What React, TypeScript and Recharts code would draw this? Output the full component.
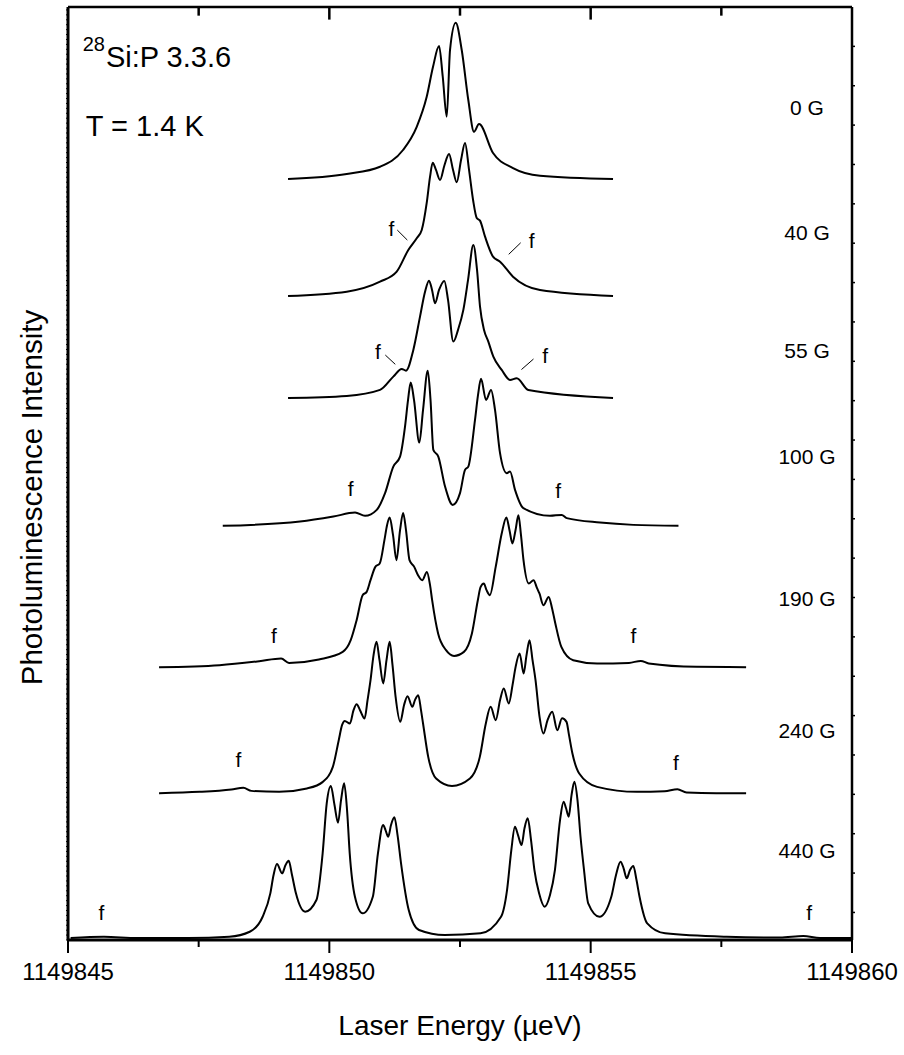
import React from 'react';
import { LineChart, Line, XAxis, YAxis, ReferenceDot, ReferenceLine, Label } from 'recharts';

const FONT = '"Liberation Sans", Arial, Helvetica, sans-serif';

// Energies are stored relative to this reference (µeV)
const E_REF = 1149850;

// Field labels and vertical offsets of each spectrum (stacked plot)
const fieldLabels = ['0 G', '40 G', '55 G', '100 G', '190 G', '240 G', '440 G'];
const offsets = [18.63, 15.66, 13.07, 9.82, 6.23, 3.03, -0.65];

// Spectra: [energy - E_REF (µeV), PL intensity (arb.)]
const spec0G: [number, number][] = [
  [-0.79, 0], [0.333, 0.127], [0.97, 0.312], [1.41, 0.737], [1.672, 1.328], [1.863, 2.09], [1.984, 2.852],
  [2.099, 3.378], [2.17, 2.598], [2.246, 1.582], [2.309, 3.277], [2.418, 3.97], [2.533, 3.277], [2.659, 2.007],
  [2.768, 1.201], [2.864, 1.397], [3.132, 0.66], [3.514, 0.279], [4.031, 0.084], [5.428, 0],
];
const spec40G: [number, number][] = [
  [-0.79, 0], [0.333, 0.109], [0.97, 0.363], [1.289, 0.617], [1.511, 1.168], [1.672, 1.466], [1.768, 1.676],
  [1.863, 2.362], [1.927, 3.03], [1.978, 3.386], [2.041, 3.2], [2.118, 2.946], [2.204, 3.327], [2.29, 3.607],
  [2.367, 3.2], [2.437, 2.888], [2.52, 3.454], [2.596, 3.886], [2.673, 3.2], [2.75, 2.438], [2.82, 1.981],
  [2.883, 1.913], [2.979, 1.506], [3.132, 0.998], [3.266, 0.871], [3.514, 0.49], [4.031, 0.152], [5.428, 0],
];
const spec55G: [number, number][] = [
  [-0.79, 0], [0.333, 0.051], [0.97, 0.203], [1.224, 0.541], [1.385, 0.737], [1.467, 0.693], [1.607, 1.219],
  [1.735, 2.065], [1.83, 2.692], [1.907, 2.979], [1.965, 2.743], [2.022, 2.405], [2.099, 2.743], [2.2, 2.972],
  [2.271, 2.489], [2.372, 1.43], [2.462, 1.727], [2.564, 2.235], [2.654, 2.997], [2.755, 3.886], [2.826, 3.251],
  [2.883, 2.319], [2.96, 1.727], [3.042, 1.43], [3.138, 1.049], [3.298, 0.711], [3.457, 0.457], [3.585, 0.5],
  [3.807, 0.203], [5.428, 0],
];
const spec100G: [number, number][] = [
  [-2.039, 0], [-0.561, 0.109], [0.077, 0.236], [0.492, 0.338], [0.683, 0.254], [0.907, 0.406], [1.066, 0.831],
  [1.224, 1.506], [1.353, 1.76], [1.448, 2.522], [1.506, 3.2], [1.557, 3.64], [1.62, 3.2], [1.722, 2.116],
  [1.793, 2.946], [1.883, 3.937], [1.936, 3.2], [1.99, 1.93], [2.085, 1.76], [2.214, 0.998], [2.361, 0.533],
  [2.5, 0.831], [2.596, 1.422], [2.659, 1.506], [2.787, 2.692], [2.845, 3.327], [2.902, 3.734], [2.998, 3.2],
  [3.094, 3.454], [3.17, 2.946], [3.266, 1.847], [3.394, 1.339], [3.457, 1.379], [3.553, 0.914], [3.712, 0.45],
  [4.222, 0.254], [4.446, 0.279], [4.542, 0.196], [5.18, 0.084], [5.816, 0.025], [6.68, 0],
];
const spec190G: [number, number][] = [
  [-3.258, 0], [-2.101, 0.051], [-1.341, 0.152], [-0.922, 0.221], [-0.771, 0.109], [-0.199, 0.196], [0.256, 0.389],
  [0.409, 0.686], [0.522, 1.194], [0.637, 1.829], [0.714, 1.913], [0.788, 2.21], [0.88, 2.548], [0.964, 2.634],
  [1.054, 3.226], [1.104, 3.607], [1.154, 3.802], [1.219, 3.353], [1.284, 2.718], [1.353, 3.48], [1.412, 3.919],
  [1.467, 3.48], [1.534, 2.718], [1.624, 2.548], [1.697, 2.337], [1.777, 2.21], [1.867, 2.421], [1.927, 2.083],
  [1.967, 1.702], [2.081, 0.856], [2.233, 0.432], [2.386, 0.287], [2.575, 0.389], [2.728, 0.856], [2.841, 1.702],
  [2.893, 2.032], [2.956, 2.126], [3.008, 1.956], [3.071, 1.829], [3.183, 2.548], [3.298, 3.396], [3.388, 3.802],
  [3.447, 3.48], [3.503, 3.142], [3.562, 3.48], [3.618, 3.861], [3.667, 3.353], [3.715, 2.718], [3.815, 2.126],
  [3.907, 2.21], [3.974, 2.007], [4.02, 1.872], [4.096, 1.575], [4.196, 1.786], [4.261, 1.499], [4.324, 1.11],
  [4.439, 0.516], [4.666, 0.178], [5.123, 0.094], [5.732, 0.109], [5.96, 0.16], [6.111, 0.094], [7.023, 0.008],
  [7.974, 0],
];
const spec240G: [number, number][] = [
  [-3.258, 0], [-2.481, 0.033], [-1.873, 0.094], [-1.645, 0.135], [-1.492, 0.058], [-0.96, 0.033], [-0.429, 0.119],
  [-0.124, 0.287], [0.067, 0.668], [0.18, 1.346], [0.243, 1.727], [0.295, 1.836], [0.394, 1.77], [0.463, 2.108],
  [0.522, 2.261], [0.587, 2.108], [0.675, 1.897], [0.731, 2.362], [0.788, 2.87], [0.846, 3.505], [0.903, 3.843],
  [0.96, 3.378], [1.031, 2.786], [1.094, 3.378], [1.154, 3.843], [1.209, 3.251], [1.268, 2.446], [1.358, 1.811],
  [1.429, 2.235], [1.496, 2.464], [1.588, 2.192], [1.64, 2.37], [1.701, 2.489], [1.754, 2.108], [1.793, 1.77],
  [1.892, 0.922], [2.043, 0.373], [2.347, 0.185], [2.69, 0.373], [2.879, 0.922], [2.994, 1.77], [3.086, 2.192],
  [3.184, 1.854], [3.266, 2.362], [3.337, 2.659], [3.434, 2.278], [3.505, 2.743], [3.564, 3.208], [3.641, 3.548],
  [3.717, 3.04], [3.773, 3.505], [3.83, 3.886], [3.888, 3.378], [3.945, 2.87], [4.022, 1.938], [4.096, 1.516],
  [4.175, 1.854], [4.264, 2.065], [4.362, 1.6], [4.452, 1.905], [4.538, 1.811], [4.586, 1.473], [4.651, 1.008],
  [4.781, 0.5], [5.123, 0.16], [5.883, 0.033], [6.415, 0.051], [6.66, 0.102], [6.834, 0.018], [7.404, 0], [7.974, 0],
];
const spec440G: [number, number][] = [
  [-4.95, 0], [-4.312, 0.033], [-3.675, 0], [-2.699, 0], [-1.915, 0.033], [-1.523, 0.16], [-1.276, 0.541],
  [-1.129, 1.135], [-1.067, 1.6], [-1.002, 1.88], [-0.903, 1.643], [-0.838, 1.854], [-0.777, 1.963], [-0.714, 1.6],
  [-0.639, 1.135], [-0.463, 0.668], [-0.247, 0.965], [-0.128, 2.151], [-0.05, 3.42], [0.029, 3.861], [0.099, 3.378],
  [0.166, 2.93], [0.224, 3.505], [0.283, 3.929], [0.339, 3.251], [0.39, 2.151], [0.49, 1.049], [0.637, 0.627],
  [0.832, 1.049], [0.93, 2.151], [1.029, 2.87], [1.075, 2.743], [1.127, 2.573], [1.18, 2.87], [1.245, 3.065],
  [1.305, 2.616], [1.372, 1.897], [1.519, 0.711], [1.716, 0.203], [2.206, 0.076], [2.893, 0.119], [3.285, 0.541],
  [3.4, 1.219], [3.482, 2.235], [3.551, 2.827], [3.61, 2.616], [3.677, 2.362], [3.735, 2.794], [3.796, 3.04],
  [3.859, 2.489], [3.924, 1.727], [4.012, 1.143], [4.119, 0.795], [4.222, 1.092], [4.316, 1.727], [4.414, 2.997],
  [4.482, 3.462], [4.528, 3.302], [4.58, 3.082], [4.634, 3.632], [4.689, 3.97], [4.748, 3.505], [4.806, 2.573],
  [4.873, 1.727], [4.953, 0.881], [5.169, 0.541], [5.395, 1.049], [5.485, 1.6], [5.571, 1.938], [5.629, 1.778],
  [5.69, 1.516], [5.753, 1.727], [5.816, 1.829], [5.877, 1.473], [5.935, 1.049], [6.082, 0.373], [6.425, 0.119],
  [7.603, 0.033], [8.623, 0.013], [9.068, 0.051], [9.388, 0], [9.981, 0],
];
const spectra = [spec0G, spec40G, spec55G, spec100G, spec190G, spec240G, spec440G];

// Axis ticks
const xDomain: [number, number] = [1149845, 1149860];
const xTicks = [1149845, 1149847.5, 1149850, 1149852.5, 1149855, 1149857.5, 1149860];
const topTicks = [1149847.5, 1149850, 1149852.5, 1149855, 1149857.5];
const yDomain: [number, number] = [-0.7, 23];
const rightTicks = Array.from({ length: 23 }, (_, i) => i);
const leftTicks = Array.from({ length: 190 }, (_, i) => -0.7 + i * 0.125).filter((v) => v < 23);
// inward tick depth on the top axis, in y-units (major every 5 µeV, minor at 2.5)
const topTickMajor = 0.32;
const topTickMinor = 0.22;

// Annotations (data coordinates)
const fieldLabelE = 1149859.14;
const fieldLabelV = [20.446, 17.283, 14.286, 11.594, 7.987, 4.634, 1.586];
const fMarks = [
  { e: 1149851.19, v: 17.385 }, { e: 1149853.87, v: 17.08 },
  { e: 1149850.93, v: 14.261 }, { e: 1149854.13, v: 14.159 },
  { e: 1149850.41, v: 10.781 }, { e: 1149854.38, v: 10.73 },
  { e: 1149848.94, v: 7.047 }, { e: 1149855.82, v: 7.047 },
  { e: 1149848.26, v: 3.897 }, { e: 1149856.63, v: 3.821 },
  { e: 1149845.64, v: 0.011 }, { e: 1149859.18, v: 0.011 },
];
const fLeaders = [
  [{ x: 1149851.3, y: 17.334 }, { x: 1149851.492, y: 17.08 }],
  [{ x: 1149853.661, y: 17.011 }, { x: 1149853.432, y: 16.717 }],
  [{ x: 1149851.071, y: 14.159 }, { x: 1149851.262, y: 13.923 }],
  [{ x: 1149853.906, y: 14.058 }, { x: 1149853.676, y: 13.791 }],
];
const sampleLabel = { e: 1149845.28, v: 21.482 };
const tempLabel = { e: 1149845.34, v: 19.722 };

const chartData = spectra.map((s, k) => s.map(([de, i]) => ({ e: E_REF + de, v: offsets[k] + i })));

const BottomTick = (props: any) => {
  const { x, y, payload } = props;
  const v = payload.value;
  const major = Math.abs((v - xDomain[0]) % 5) < 1e-6;
  return (
    <g>
      <line x1={x} x2={x} y1={y} y2={y + (major ? 13 : 7)} stroke="#000" strokeWidth={2} />
      {major && (
        <text x={x} y={y + 40} textAnchor="middle" fontSize={24} fontFamily={FONT} fill="#000">
          {v}
        </text>
      )}
    </g>
  );
};

const NoTick = () => <g />;

const XTitle = (props: any) => {
  const vb = props.viewBox || { x: 68, y: 940, width: 784, height: 115 };
  return (
    <text x={vb.x + vb.width / 2} y={vb.y + 95} textAnchor="middle" fontSize={28} fontFamily={FONT} fill="#000">
      Laser Energy (µeV)
    </text>
  );
};

const YTitle = (props: any) => {
  const vb = props.viewBox || { x: 67, y: 7, width: 1, height: 933 };
  const cx = vb.x + vb.width - 37;
  const cy = vb.y + vb.height / 2 + 24;
  return (
    <text x={cx} y={cy} transform={`rotate(-90 ${cx} ${cy})`} textAnchor="middle" dominantBaseline="central"
      fontSize={29.5} fontFamily={FONT} fill="#000">
      Photoluminescence Intensity
    </text>
  );
};

const textShape = (content: React.ReactNode, size: number, anchor: string = 'middle', baseline: string = 'central') =>
  (p: any) => (
    <text x={p.cx} y={p.cy} textAnchor={anchor} dominantBaseline={baseline} fontSize={size} fontFamily={FONT} fill="#000">
      {content}
    </text>
  );

const isMajor = (t: number) => Math.abs((t - xDomain[0]) % 5) < 1e-6;

export default function App() {
  return (
    <div style={{ position: 'absolute', left: 0, top: 0, width: 904, height: 1055, background: '#fff' }}>
      <LineChart width={904} height={1055} margin={{ top: 6, right: 51, bottom: 0, left: 67 }}>
        <XAxis xAxisId="b" type="number" dataKey="e" domain={xDomain} ticks={xTicks} interval={0}
          allowDataOverflow height={115} tickSize={0} tickMargin={0} tickLine={false}
          axisLine={{ stroke: '#000', strokeWidth: 3 }} tick={<BottomTick />}>
          <Label content={<XTitle />} />
        </XAxis>
        <XAxis xAxisId="t" orientation="top" type="number" domain={xDomain} ticks={xTicks} interval={0}
          allowDataOverflow height={1} tickLine={false} tick={<NoTick />}
          axisLine={{ stroke: '#000', strokeWidth: 2.5 }} />
        <YAxis yAxisId="l" type="number" domain={yDomain} ticks={leftTicks} interval={0} allowDataOverflow
          width={1} tickSize={2} tick={<NoTick />} axisLine={{ stroke: '#000', strokeWidth: 3 }}
          tickLine={{ stroke: '#000', strokeWidth: 1 }}>
          <Label content={<YTitle />} />
        </YAxis>
        <YAxis yAxisId="r" orientation="right" type="number" domain={yDomain} ticks={rightTicks} interval={0}
          allowDataOverflow width={1} tickSize={3} tick={<NoTick />} axisLine={{ stroke: '#000', strokeWidth: 2.5 }}
          tickLine={{ stroke: '#000', strokeWidth: 1.5 }} />
        {topTicks.map((t) => (
          <ReferenceLine key={'tt' + t} xAxisId="b" yAxisId="l" ifOverflow="visible" stroke="#000" strokeWidth={2.5}
            segment={[{ x: t, y: yDomain[1] }, { x: t, y: yDomain[1] - (isMajor(t) ? topTickMajor : topTickMinor) }]} />
        ))}
        {chartData.map((d, k) => (
          <Line key={fieldLabels[k]} xAxisId="b" yAxisId="l" data={d} dataKey="v" type="monotone"
            stroke="#000" strokeWidth={2} dot={false} isAnimationActive={false} />
        ))}
        {fieldLabels.map((t, k) => (
          <ReferenceDot key={'lab' + t} xAxisId="b" yAxisId="l" x={fieldLabelE} y={fieldLabelV[k]} r={0}
            ifOverflow="visible" shape={textShape(t, 21)} />
        ))}
        {fMarks.map((m, k) => (
          <ReferenceDot key={'f' + k} xAxisId="b" yAxisId="l" x={m.e} y={m.v} r={0}
            ifOverflow="visible" shape={textShape('f', 21)} />
        ))}
        {fLeaders.map((seg, k) => (
          <ReferenceLine key={'fl' + k} xAxisId="b" yAxisId="l" segment={seg} stroke="#000" strokeWidth={1}
            ifOverflow="visible" />
        ))}
        <ReferenceDot xAxisId="b" yAxisId="l" x={sampleLabel.e} y={sampleLabel.v} r={0} ifOverflow="visible"
          shape={(p: any) => (
            <text x={p.cx} y={p.cy} fontFamily={FONT} fill="#000">
              <tspan fontSize={20} dy={-16}>28</tspan>
              <tspan fontSize={29} dx={1} dy={16}>Si:P 3.3.6</tspan>
            </text>
          )} />
        <ReferenceDot xAxisId="b" yAxisId="l" x={tempLabel.e} y={tempLabel.v} r={0} ifOverflow="visible"
          shape={textShape('T = 1.4 K', 29, 'start', 'auto')} />
      </LineChart>
    </div>
  );
}
